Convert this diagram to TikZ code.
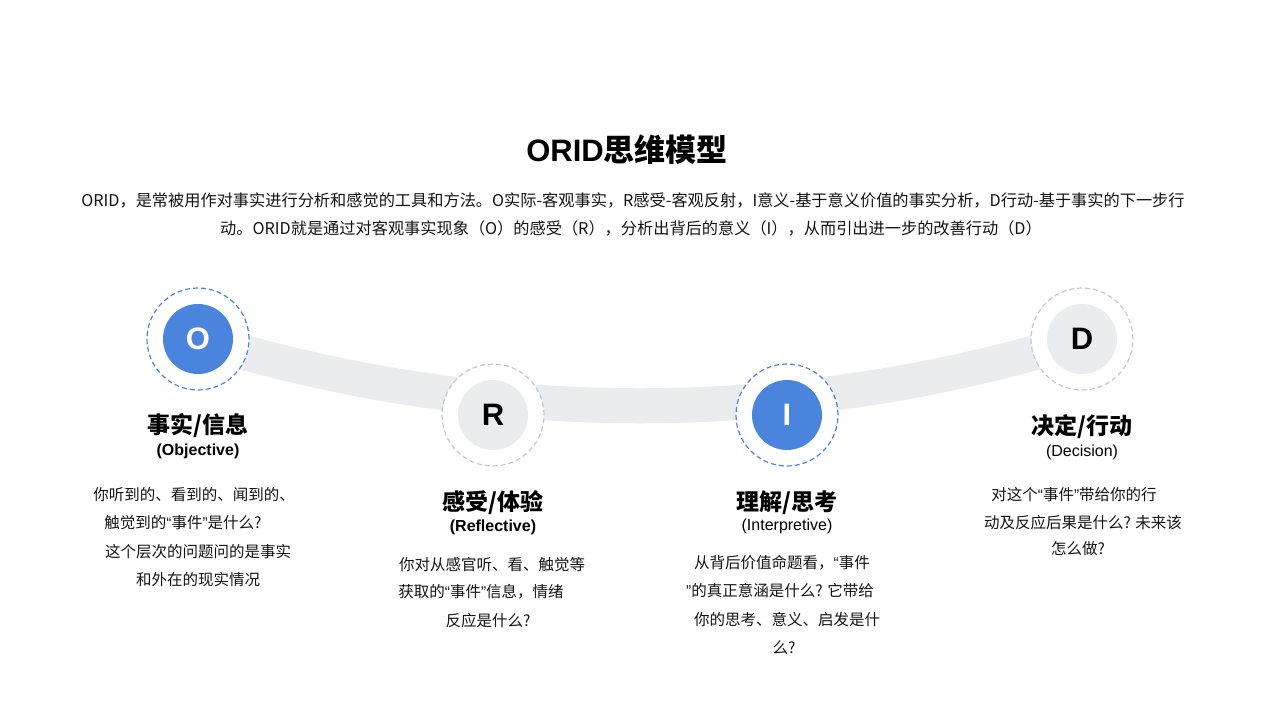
\documentclass[tikz,border=0pt]{standalone}
\usepackage{fontspec}
\setmainfont{Noto Sans CJK SC}
\newfontfamily\cjk{Noto Sans CJK SC}
\newfontfamily\lat{Liberation Sans}
\usetikzlibrary{backgrounds}
\newcommand\qopen{{\lat “}}
\newcommand\qclose{{\lat ”}}
\definecolor{oblue}{HTML}{4A84DD}
\definecolor{bandc}{HTML}{EBECEE}
\definecolor{dgray}{HTML}{C3C7CE}
\definecolor{txt}{HTML}{141414}
\begin{document}
\begin{tikzpicture}[x=1pt,y=-1pt,
  core/.style={circle,minimum size=70pt,inner sep=0pt,font=\lat\bfseries\fontsize{31}{31}\selectfont},
  bluecore/.style={core,fill=oblue,text=white},
  graycore/.style={core,fill=bandc,text=black},
  ring/.style={circle,minimum size=102pt,inner sep=0pt,fill=white,dash pattern=on 5pt off 3pt,line width=1.2pt},
  bluering/.style={ring,draw=oblue},
  grayring/.style={ring,draw=dgray},
  head/.style={inner sep=0pt,text=black,font=\cjk\bfseries\fontsize{23}{23}\selectfont},
  subb/.style={inner sep=0pt,text=black,font=\lat\bfseries\fontsize{16}{16}\selectfont},
  subr/.style={inner sep=0pt,text=black,font=\lat\fontsize{16}{16}\selectfont},
  body/.style={inner sep=0pt,text=txt,font=\cjk\fontsize{15.5}{15.5}\selectfont},
  desc/.style={inner sep=0pt,text=txt,font=\cjk\fontsize{16.2}{16.2}\selectfont},
  bandline/.style={draw=bandc,line width=35pt}
]
\useasboundingbox (0,0) rectangle (1280,720);
% title and description
\node[inner sep=0pt,text=black,font=\cjk\bfseries\fontsize{31}{31}\selectfont] (title) at (627,150) {{\lat ORID}思维模型};
\node[desc] (desc1) at (633,200) {ORID，是常被用作对事实进行分析和感觉的工具和方法。O实际-客观事实，R感受-客观反射，I意义-基于意义价值的事实分析，D行动-基于事实的下一步行};
\node[desc] (desc2) at (631,228) {动。ORID就是通过对客观事实现象（O）的感受（R），分析出背后的意义（I），从而引出进一步的改善行动（D）};
% circles
\node[bluering] (Oring) at (198,339) {};
\node[bluecore] (O) at (198,339) {O};
\node[grayring] (Rring) at (493,415) {};
\node[graycore] (R) at (493,415) {R};
\node[bluering] (Iring) at (787,415) {};
\node[bluecore] (I) at (787,415) {I};
\node[grayring] (Dring) at (1082,339) {};
\node[graycore] (D) at (1082,339) {D};
% band behind
\begin{scope}[on background layer]
\fill[white] (0,0) rectangle (1280,720);
\draw[bandline] (Oring.center) .. controls (486,428) and (794,428) .. (Dring.center);
\end{scope}
% O column
\node[head] (Ohead) at (198,426) {事实/信息};
\node[subb] (Osub) at (198,451) {(Objective)};
\node[body] (O1) at (194,495) {你听到的、看到的、闻到的、};
\node[body] (O2) at (183,523) {触觉到的\qopen 事件\qclose 是什么?};
\node[body] (O3) at (198,552) {这个层次的问题问的是事实};
\node[body] (O4) at (198,580) {和外在的现实情况};
% R column
\node[head] (Rhead) at (493,503) {感受/体验};
\node[subb] (Rsub) at (493,527) {(Reflective)};
\node[body] (R1) at (492,565) {你对从感官听、看、触觉等};
\node[body] (R2) at (481,592) {获取的\qopen 事件\qclose 信息，情绪};
\node[body] (R3) at (488,621) {反应是什么?};
% I column
\node[head] (Ihead) at (787,503) {理解/思考};
\node[subr] (Isub) at (787,526) {(Interpretive)};
\node[body] (I1) at (782,563) {从背后价值命题看，\qopen 事件};
\node[body] (I2) at (780,591) {\qclose 的真正意涵是什么? 它带给};
\node[body] (I3) at (787,620) {你的思考、意义、启发是什};
\node[body] (I4) at (784,648) {么?};
% D column
\node[head] (Dhead) at (1082,427) {决定/行动};
\node[subr] (Dsub) at (1082,452) {(Decision)};
\node[body] (D1) at (1074,495) {对这个\qopen 事件\qclose 带给你的行};
\node[body] (D2) at (1083,523) {动及反应后果是什么? 未来该};
\node[body] (D3) at (1078,549) {怎么做?};
\end{tikzpicture}
\end{document}
